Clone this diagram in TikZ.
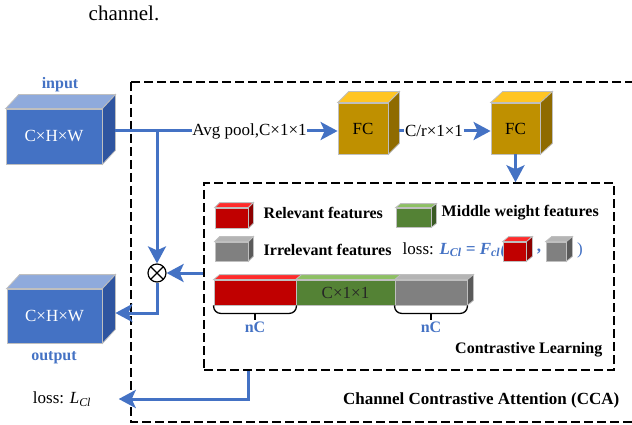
\documentclass[tikz,border=0pt]{standalone}
\usepackage{fontspec}
\setmainfont{Liberation Serif}
\usetikzlibrary{arrows.meta}
\definecolor{blu}{HTML}{4472C4}
\definecolor{bluF}{HTML}{4472C4}
\definecolor{bluS}{HTML}{8FAADC}
\definecolor{bluL}{HTML}{2F55A0}
\definecolor{oroF}{HTML}{BF9000}
\definecolor{oroS}{HTML}{FFC524}
\definecolor{oroL}{HTML}{8F6B00}
\definecolor{rossoF}{HTML}{C00000}
\definecolor{rossoS}{HTML}{FF2B2B}
\definecolor{rossoL}{HTML}{8C0000}
\definecolor{verdeF}{HTML}{548235}
\definecolor{verdeS}{HTML}{8DC063}
\definecolor{verdeL}{HTML}{3A5A24}
\definecolor{grigioF}{HTML}{808080}
\definecolor{grigioS}{HTML}{B4B4B4}
\definecolor{grigioL}{HTML}{5A5A5A}
\tikzset{
  fronte/.style  = {rectangle, draw=black!25, line width=0.8pt, inner sep=0, font=\fontsize{17}{20}\selectfont},
  faccia/.style  = {draw=black!25, line width=0.8pt},
  filo/.style    = {draw=blu, line width=3pt},
  freccia/.style = {filo, -{Stealth[length=17pt, width=18pt, inset=4pt]}},
  et/.style      = {font=\fontsize{17}{20}\selectfont, inner sep=0.5pt},
  etb/.style     = {font=\fontsize{16}{19}\selectfont\bfseries, inner sep=0.5pt},
  tratt/.style   = {draw, line width=1.5pt, dash pattern=on 9pt off 4pt},
  graffa/.style  = {draw, line width=1.3pt}
}
\newcommand{\solido}[4]{%
  \filldraw[faccia, fill=#3] (#1.north west) -- ++(#2) -- ([shift={(#2)}]#1.north east) -- (#1.north east) -- cycle;
  \filldraw[faccia, fill=#4] (#1.north east) -- ++(#2) -- ([shift={(#2)}]#1.south east) -- (#1.south east) -- cycle;}
\newcommand{\sopra}[3]{%
  \filldraw[faccia, fill=#3] (#1.north west) -- ++(#2) -- ([shift={(#2)}]#1.north east) -- (#1.north east) -- cycle;}

\begin{document}
\begin{tikzpicture}[x=1pt, y=-1pt]
  \useasboundingbox (0,0) rectangle (632,425);
  \clip (0,0) rectangle (632,425);
  \node[et, anchor=base west, font=\fontsize{21}{24}\selectfont] (cap) at (88,21) {channel.};

  % cornici
  \draw[tratt] (131,82) rectangle (660,422);
  \node[tratt, minimum width=410pt, minimum height=187pt] (cl) at (409,276.5) {};

  % ingresso e uscita
  \node[fronte, fill=bluF, text=white, minimum width=96pt, minimum height=55pt] (inp) at (54,136.5) {C×H×W};
  \solido{inp}{13,-14}{bluS}{bluL}
  \node[etb, text=blu] (linp) at (60,85) {input};
  \node[fronte, fill=bluF, text=white, minimum width=95pt, minimum height=54pt] (out) at (54.5,316) {C×H×W};
  \solido{out}{13,-14}{bluS}{bluL}
  \node[etb, text=blu] (lout) at (54,358) {output};
  \node[et] (lloss) at (62,399) {loss: \textit{L}\textsubscript{\textit{Cl}}};
  \node[circle, draw, line width=1.2pt, minimum size=18pt, inner sep=0, path picture={\draw[line width=1.2pt] (path picture bounding box.north west) -- (path picture bounding box.south east) (path picture bounding box.north east) -- (path picture bounding box.south west);}] (mul) at (157,273) {};

  % ramo superiore
  \node[et] (avg) at (249.5,131) {Avg pool,C×1×1};
  \node[fronte, fill=oroF, minimum width=50pt, minimum height=51pt] (fc1) at (363,128.5) {FC};
  \solido{fc1}{11,-11}{oroS}{oroL}
  \node[et] (cr) at (434,131) {C/r×1×1};
  \node[fronte, fill=oroF, minimum width=49pt, minimum height=51pt] (fc2) at (515.5,128.5) {FC};
  \solido{fc2}{12,-11}{oroS}{oroL}

  \coordinate (inpR) at ([xshift=13pt]inp.east);
  \coordinate (fc1R) at ([xshift=11pt]fc1.east);
  \coordinate (outR) at ([shift={(13,-3)}]out.east);
  \draw[filo] (inpR |- avg.west) -- (avg.west);
  \draw[freccia] (avg.west -| mul) -- (mul.north);
  \draw[freccia] (avg.east) -- (avg.east -| fc1.west);
  \draw[filo] (fc1R |- cr.west) -- (cr.west);
  \draw[freccia] (cr.east) -- (cr.east -| fc2.west);
  \draw[freccia] (fc2.south) -- (fc2.south |- cl.north);
  \draw[freccia] (cl.west |- mul) -- (mul.east);
  \draw[freccia] (mul.south) |- (outR);
  \draw[freccia] ([xshift=-161pt]cl.south) |- ([xshift=27pt]lloss.east);

  % legenda
  \node[fronte, fill=rossoF, minimum width=33pt, minimum height=20pt] (lr) at (231.5,218) {};
  \solido{lr}{5,-5}{rossoS}{rossoL}
  \node[etb, anchor=west] (tr) at (263,213) {Relevant features};
  \node[fronte, fill=verdeF, minimum width=35pt, minimum height=19pt] (lv) at (413.5,217.5) {};
  \solido{lv}{5,-4}{verdeS}{verdeL}
  \node[etb, anchor=west] (tv) at (441,213) {Middle weight features};
  \node[fronte, fill=grigioF, minimum width=33pt, minimum height=19pt] (lg) at (231.5,251.5) {};
  \solido{lg}{5,-5}{grigioS}{grigioL}
  \node[etb, anchor=west] (tg) at (263,250) {Irrelevant features};
  \node[et, anchor=west] (form) at (402,250) {loss: \textcolor{blu}{\bfseries\itshape L\textsubscript{Cl} = F\textsubscript{cl}(}};
  \node[fronte, fill=rossoF, minimum width=23pt, minimum height=19pt] (fr) at (514.5,251.5) {};
  \solido{fr}{6,-5}{rossoS}{rossoL}
  \node[et, text=blu, font=\fontsize{17}{20}\selectfont\bfseries] (virg) at (539,252) {,};
  \node[fronte, fill=grigioF, minimum width=20pt, minimum height=19pt] (fg) at (556,251.5) {};
  \solido{fg}{6,-5}{grigioS}{grigioL}
  \node[et, text=blu] (par) at (580,250) {)};

  % vettore dei canali
  \node[fronte, fill=rossoF, minimum width=82pt, minimum height=25pt] (br) at (255,292.5) {};
  \sopra{br}{6,-5}{rossoS}
  \node[fronte, fill=verdeF, text=black!85, minimum width=99pt, minimum height=25pt] (bv) at (345.5,292.5) {C×1×1};
  \sopra{bv}{6,-5}{verdeS}
  \node[fronte, fill=grigioF, minimum width=72pt, minimum height=25pt] (bg) at (431,292.5) {};
  \solido{bg}{6,-5}{grigioS}{grigioL}
  \draw[graffa, rounded corners=7pt] (br.south west) -- ([yshift=-8pt]br.south west) -- ([yshift=-8pt]br.south east) -- (br.south east);
  \draw[graffa] ([yshift=-8pt]br.south) -- ++(0,7);
  \node[etb, text=blu] (nc1) at (255,327) {nC};
  \draw[graffa, rounded corners=7pt] (bg.south west) -- ([yshift=-8pt]bg.south west) -- ([yshift=-8pt]bg.south east) -- (bg.south east);
  \draw[graffa] ([yshift=-8pt]bg.south) -- ++(0,7);
  \node[etb, text=blu] (nc2) at (431,327) {nC};

  \node[etb, anchor=east] (tcl) at (603,350) {Contrastive Learning};
  \node[etb, anchor=east, font=\fontsize{17}{20}\selectfont\bfseries] (tcca) at (620,400) {Channel Contrastive Attention (CCA)};
\end{tikzpicture}
\end{document}
